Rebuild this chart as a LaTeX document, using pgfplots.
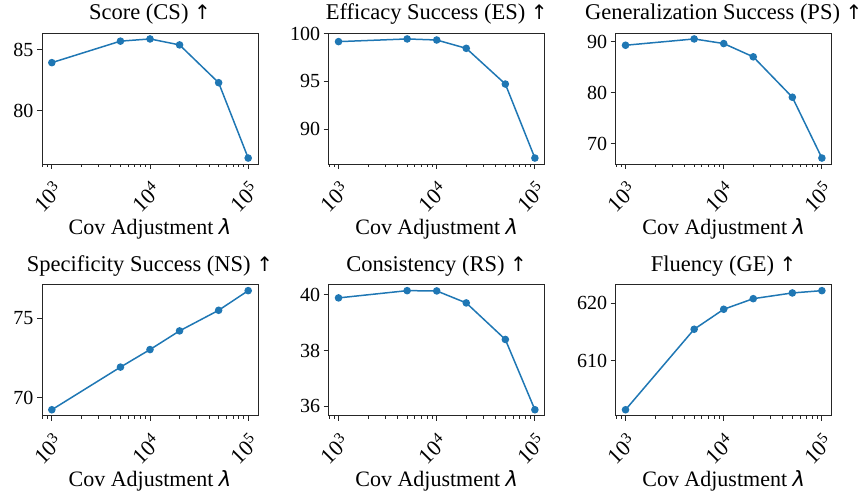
\documentclass[border=0pt]{standalone}
\usepackage{pgfplots}
\pgfplotsset{compat=1.18}
\usepackage{fontspec}
\setmainfont{Liberation Serif}
\newfontfamily\dejavu{DejaVu Sans}
\definecolor{c0}{HTML}{1F77B4}
\definecolor{axc}{HTML}{262626}
\newcommand{\up}{{\dejavu\fontsize{20}{22}\selectfont ↑}}
\pgfplotscreateplotcyclelist{mylist}{c0, line width=1.5pt, mark=*, mark size=3pt, mark options={solid, fill=c0, draw=c0}\\}
\pgfplotsset{
  every axis/.append style={
    scale only axis, width=216pt, height=131pt,
    xmin=794.33, xmax=125892.5,
    xtick={1000,10000,100000},
    minor xtick={800,900,2000,3000,4000,5000,6000,7000,8000,9000,20000,30000,40000,50000,60000,70000,80000,90000},
    xticklabels={10\textsuperscript{3},10\textsuperscript{4},10\textsuperscript{5}},
    enlarge y limits=0.05,
    axis line style={axc, line width=0.9pt},
    tick style={axc, line width=0.9pt},
    tick align=outside, xtick pos=bottom, ytick pos=left,
    major tick length=5pt, minor tick length=3pt,
    tick label style={font=\fontsize{20}{22}\selectfont},
    xticklabel style={font=\fontsize{22}{24}\selectfont, rotate=45, anchor=center, xshift=-22.5pt, yshift=-16.5pt},
    title style={font=\fontsize{22.5}{26}\selectfont, at={(0.5,1)}, anchor=base, yshift=7pt},
    label style={font=\fontsize{22}{26}\selectfont},
    xlabel={Cov Adjustment {\dejavu\itshape\fontsize{21}{24}\selectfont λ}},
    xlabel style={at={(0.5,0)}, anchor=north, yshift=-51pt},
    cycle list name=mylist,
  },
}
\pgfkeys{/pgf/number format/assume math mode=true}
\begin{document}
\begin{tikzpicture}
\useasboundingbox (0,0) rectangle (861pt,495pt);
\begin{semilogxaxis}[at={(42pt,331pt)}, anchor=south west, title={Score (CS) \up}, ytick={80,85}]
\addplot table[row sep=\\] {x y\\ 1000 83.95\\ 5000 85.72\\ 10000 85.9\\ 20000 85.41\\ 50000 82.3\\ 100000 76.1\\};
\end{semilogxaxis}
\begin{semilogxaxis}[at={(328.7pt,331pt)}, anchor=south west, title={Efficacy Success (ES) \up}, ytick={90,95,100}]
\addplot table[row sep=\\] {x y\\ 1000 99.16\\ 5000 99.44\\ 10000 99.33\\ 20000 98.46\\ 50000 94.73\\ 100000 87.0\\};
\end{semilogxaxis}
\begin{semilogxaxis}[at={(615.7pt,331pt)}, anchor=south west, title={Generalization Success (PS) \up}, ytick={70,80,90}]
\addplot table[row sep=\\] {x y\\ 1000 89.27\\ 5000 90.5\\ 10000 89.6\\ 20000 87.0\\ 50000 79.1\\ 100000 67.2\\};
\end{semilogxaxis}
\begin{semilogxaxis}[at={(42pt,79.3pt)}, anchor=south west, title={Specificity Success (NS) \up}, ytick={70,75}]
\addplot table[row sep=\\] {x y\\ 1000 69.25\\ 5000 71.92\\ 10000 73.02\\ 20000 74.19\\ 50000 75.48\\ 100000 76.71\\};
\end{semilogxaxis}
\begin{semilogxaxis}[at={(328.7pt,79.3pt)}, anchor=south west, title={Consistency (RS) \up}, ytick={36,38,40}]
\addplot table[row sep=\\] {x y\\ 1000 39.89\\ 5000 40.15\\ 10000 40.14\\ 20000 39.71\\ 50000 38.40\\ 100000 35.88\\};
\end{semilogxaxis}
\begin{semilogxaxis}[at={(615.7pt,79.3pt)}, anchor=south west, title={Fluency (GE) \up}, ytick={610,620}]
\addplot table[row sep=\\] {x y\\ 1000 601.4\\ 5000 615.46\\ 10000 618.95\\ 20000 620.8\\ 50000 621.8\\ 100000 622.2\\};
\end{semilogxaxis}
\end{tikzpicture}
\end{document}
